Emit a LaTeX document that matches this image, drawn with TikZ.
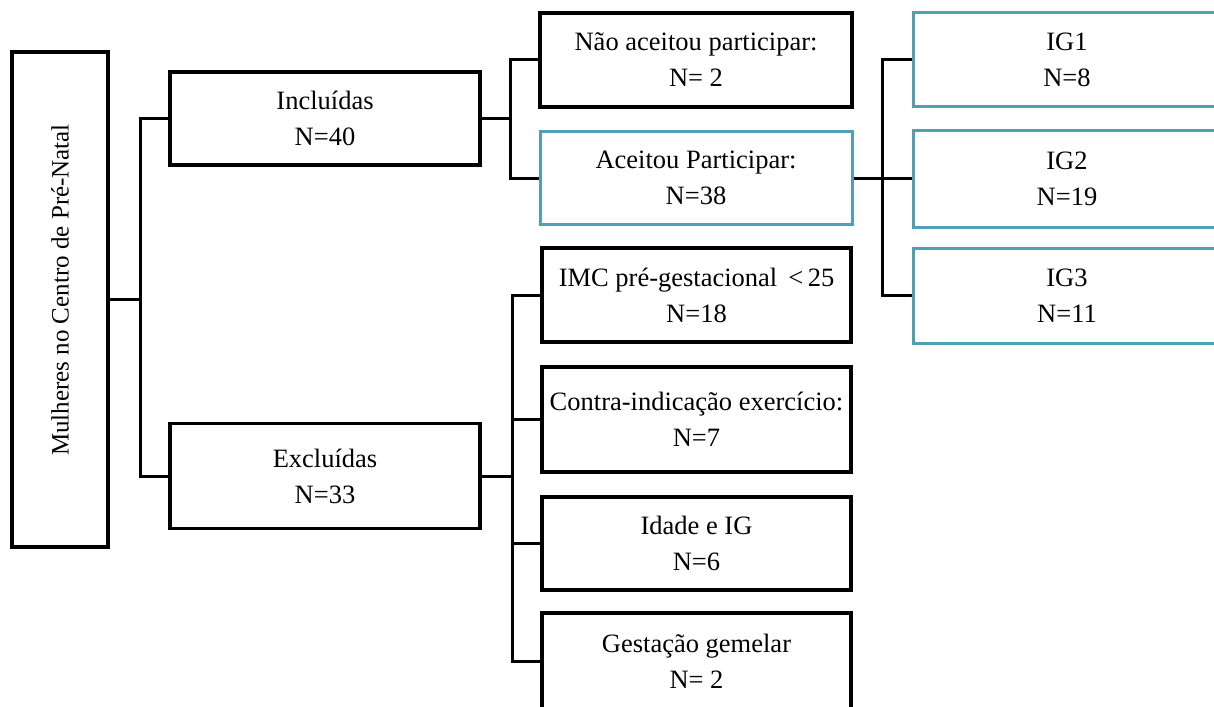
\documentclass[tikz,border=0pt]{standalone}
\usepackage{fontspec}
\setmainfont{Liberation Serif}
\definecolor{tealline}{RGB}{78,160,180}
\begin{document}
\begin{tikzpicture}[x=1pt,y=-1pt,
  box/.style={draw=black,line width=3.6pt,fill=white,align=center,inner sep=0pt,
    font=\fontsize{26.5}{36}\selectfont},
  tbox/.style={box,draw=tealline,line width=3pt},
  conn/.style={draw=black,line width=3pt}]
\clip (0,0) rectangle (1214,706);
\fill[white] (0,0) rectangle (1214,706);
% left
\node[box,minimum width=96pt,minimum height=495pt] (main) at (60,299.5) {};
\node[rotate=90,font=\fontsize{25}{30}\selectfont] (maintxt) at (60,290) {Mulheres no Centro de Pré-Natal};
\node[box,minimum width=310pt,minimum height=93pt] (incl) at (325,118.5) {Incluídas\\N=40};
\node[box,minimum width=310pt,minimum height=105pt] (excl) at (325,476) {Excluídas\\N=33};
% middle
\node[box,minimum width=312pt,minimum height=94pt] (nao) at (696,60) {Não aceitou participar:\\N= 2};
\node[tbox,minimum width=312pt,minimum height=93pt] (aceit) at (696,178) {Aceitou Participar:\\N=38};
\node[box,minimum width=309pt,minimum height=94pt] (imc) at (696.5,295) {IMC pré-gestacional \,<\,25\\N=18};
\node[box,minimum width=309pt,minimum height=105pt] (contra) at (696.5,419.5) {Contra-indicação exercício:\\N=7};
\node[box,minimum width=309pt,minimum height=93pt] (idade) at (696.5,543.5) {Idade e IG\\N=6};
\node[box,minimum width=309pt,minimum height=96pt] (gest) at (696.5,661) {Gestação gemelar\\N= 2};
% right
\node[tbox,minimum width=308pt,minimum height=94pt] (ig1) at (1067,60) {IG1\\N=8};
\node[tbox,minimum width=308pt,minimum height=97pt] (ig2) at (1067,178.5) {IG2\\N=19};
\node[tbox,minimum width=308pt,minimum height=95pt] (ig3) at (1067,295.5) {IG3\\N=11};
% connectors
\coordinate (t1) at (140,299.5);
\coordinate (t2) at (510,118.5);
\coordinate (t3) at (512,476);
\coordinate (t4) at (882,178);
\draw[conn] (main.east) -- (t1);
\draw[conn] (t1) |- (incl.west);
\draw[conn] (t1) |- (excl.west);
\draw[conn] (incl.east) -- (t2);
\draw[conn] (t2) |- (nao.west);
\draw[conn] (t2) |- (aceit.west);
\draw[conn] (excl.east) -- (t3);
\draw[conn] (t3) |- (imc.west);
\draw[conn] (t3) |- (contra.west);
\draw[conn] (t3) |- (idade.west);
\draw[conn] (t3) |- (gest.west);
\draw[conn] (aceit.east) -- (t4);
\draw[conn] (t4) |- (ig1.west);
\draw[conn] (t4) |- (ig2.west);
\draw[conn] (t4) |- (ig3.west);
\end{tikzpicture}
\end{document}
